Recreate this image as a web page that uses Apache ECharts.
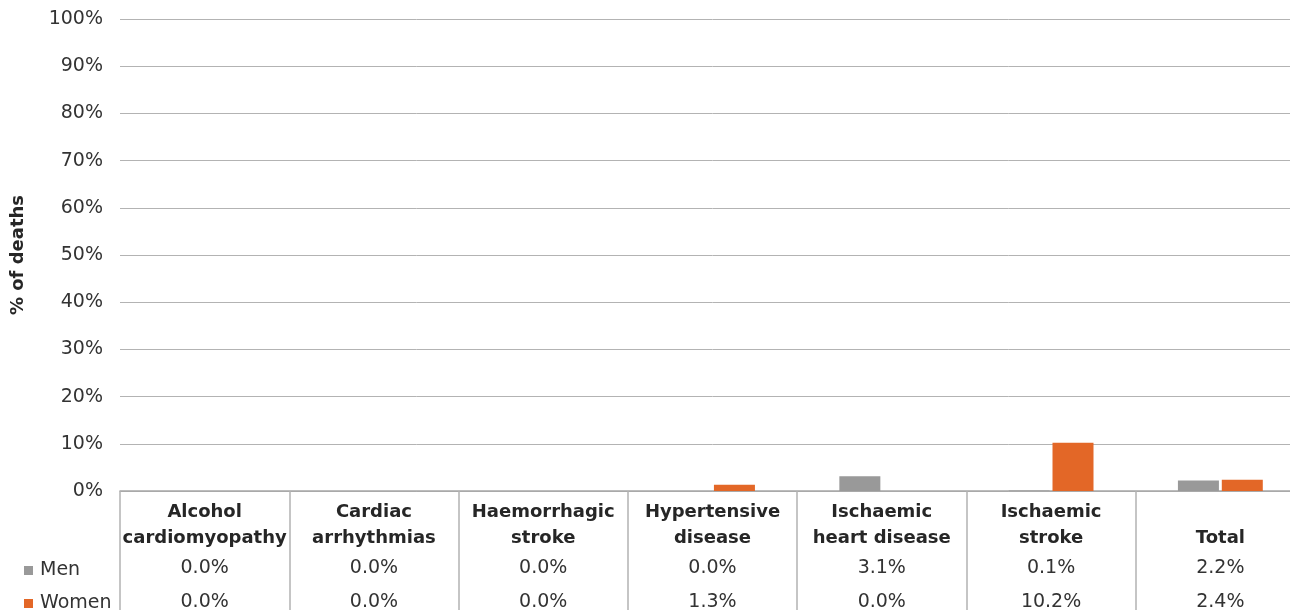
<!DOCTYPE html>
<html>
<head>
<meta charset="utf-8">
<script src="https://cdn.jsdelivr.net/npm/echarts@6/dist/echarts.min.js"></script>
<style>
  html, body { margin: 0; padding: 0; background: #fff; }
  #chart { width: 1290px; height: 610px; overflow: hidden; }
</style>
</head>
<body>
<div id="chart"></div>
<script>
const causes = [
  "Alcohol\ncardiomyopathy",
  "Cardiac\narrhythmias",
  "Haemorrhagic\nstroke",
  "Hypertensive\ndisease",
  "Ischaemic\nheart disease",
  "Ischaemic\nstroke",
  "Total",
];
const menPct = [0.0, 0.0, 0.0, 0.0, 3.1, 0.1, 2.2];
const womenPct = [0.0, 0.0, 0.0, 1.3, 0.0, 10.2, 2.4];

const FONT = "DejaVu Sans";
const chartDom = document.getElementById("chart");
// the last table column runs past the right edge of the picture
const chart = echarts.init(chartDom, null, { width: 1305, height: 610 });

// category label = name (2 lines) + data table rows for Men / Women
const tableLabel = (value, idx) => {
  let lines = value.split("\n");
  if (lines.length < 2) lines = [" ", lines[0]];
  return (
    "{n|" + lines[0] + "}\n{n|" + lines[1] + "}\n" +
    "{v1|" + menPct[idx].toFixed(1) + "%}\n" +
    "{v|" + womenPct[idx].toFixed(1) + "%}"
  );
};

const legendItem = (name, top) => ({
  orient: "vertical",
  left: 19,
  top: top,
  itemWidth: 9,
  itemHeight: 9,
  icon: "rect",
  textStyle: { fontFamily: FONT, fontSize: 19, color: "#333", lineHeight: 16, padding: [0, 0, 0, 2] },
  data: [name],
});

const option = {
  animation: false,
  textStyle: { fontFamily: FONT },
  grid: { left: 120, top: 19, right: 0, bottom: 119, outerBoundsMode: "none" },
  legend: [legendItem("Men", 556), legendItem("Women", 589)],
  xAxis: {
    type: "category",
    data: causes,
    axisLine: { lineStyle: { color: "#a6a6a6", width: 1.5 } },
    axisTick: {
      show: true,
      interval: 0,
      length: 119,
      lineStyle: { color: "#b3b3b3", width: 1.5 },
    },
    axisLabel: {
      interval: 0,
      margin: 8,
      formatter: tableLabel,
      rich: {
        n: { fontFamily: FONT, fontSize: 18, fontWeight: "bold", color: "#262626", lineHeight: 26, align: "center" },
        v1: { fontFamily: FONT, fontSize: 19, color: "#333", lineHeight: 35, align: "center" },
        v: { fontFamily: FONT, fontSize: 19, color: "#333", lineHeight: 32, align: "center" },
      },
    },
  },
  yAxis: {
    type: "value",
    min: 0,
    max: 100,
    interval: 10,
    name: "% of deaths",
    nameLocation: "middle",
    nameGap: 93,
    nameTextStyle: { fontFamily: FONT, fontSize: 18, fontWeight: "bold", color: "#262626" },
    axisLine: { show: false },
    axisTick: { show: false },
    axisLabel: { margin: 17, fontSize: 19, color: "#333", formatter: "{value}%" },
    splitLine: { lineStyle: { color: "#b3b3b3", width: 1 } },
  },
  series: [
    {
      name: "Men",
      type: "bar",
      data: menPct,
      barWidth: 41,
      barGap: "7%",
      itemStyle: { color: "#999999" },
    },
    {
      name: "Women",
      type: "bar",
      data: womenPct,
      barWidth: 41,
      itemStyle: { color: "#e36727" },
    },
  ],
};

option && chart.setOption(option);
</script>
</body>
</html>
